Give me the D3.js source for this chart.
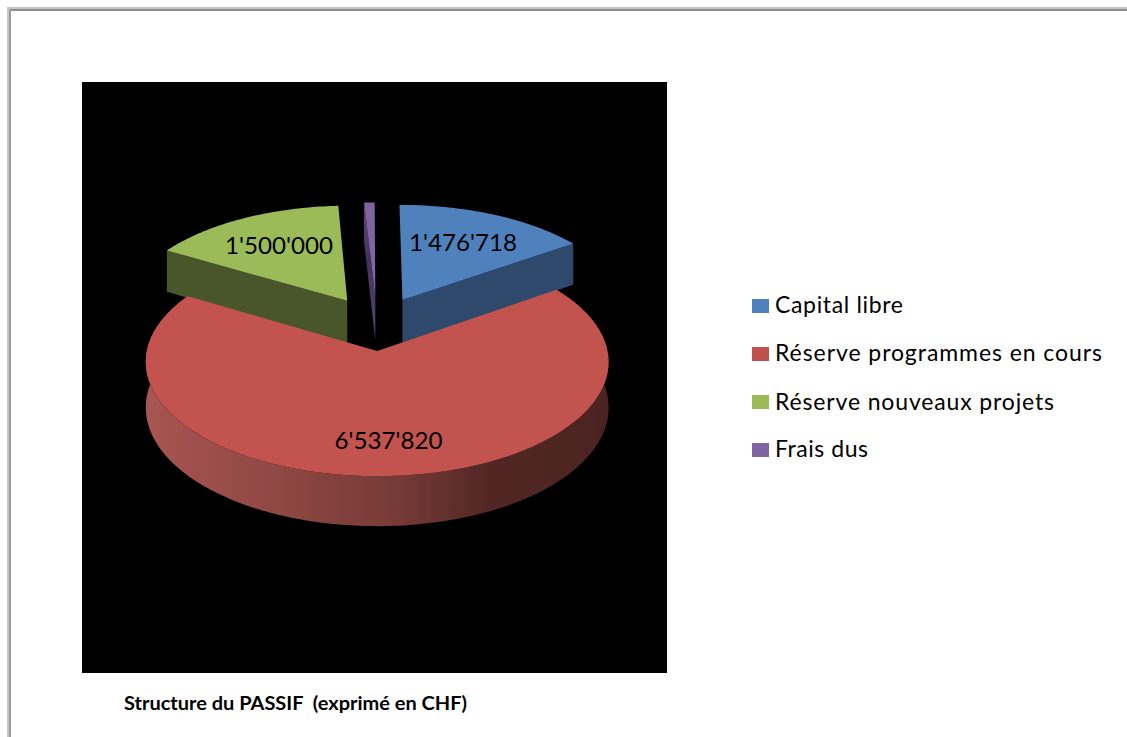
<!DOCTYPE html>
<html><head><meta charset="utf-8">
<script src="https://cdn.jsdelivr.net/npm/d3@7"></script>
<style>html,body{margin:0;padding:0;background:#fff;overflow:hidden}svg{display:block}</style>
</head><body><div id="chart"></div>
<script>
const categories = ["Capital libre", "Réserve programmes en cours", "Réserve nouveaux projets", "Frais dus"];
const values = [1476718, 6537820, 1500000, 80000];
const showValue = [true, true, true, false];
const topColors = ["#4F81BD", "#C25350", "#9BBB59", "#8064A2"];
const legendColors = ["#4F81BD", "#C0504D", "#9BBB59", "#8064A2"];
const wallColors = ["#2F4A6C", "#7A3C39", "#4A5629", "#40325A"];
const chartTitle = "Structure du PASSIF  (exprimé en CHF)";

const W = 1127, H = 737;
const view = {cx: 377, cy: 323.4, rx: 225, ry: 108, persp: 0.093, depth: 44.2, explode: 0.25};
const sliceNudge = [0, -2, -1, 0];
const plot = {x0: 82, x1: 667, y0: 82, y1: 673};
const labelAt = [[463, 251], [388.5, 449], [279, 254]];
const legendBox = {x: 752, size: 17, textX: 775, rows: [299, 347, 395, 443], base: [313, 361, 410, 457], widths: [128, 327, 279, 93]};

const svg = d3.select("#chart").append("svg").attr("width", W).attr("height", H);
svg.append("rect").attr("width", W).attr("height", H).attr("fill", "#fff");

// window frame
[["#c4c4c4", 7, 7, W - 7, 2], ["#8c8c8c", 9, 9, W - 9, 2], ["#c4c4c4", 7, 7, 2, H - 7], ["#9a9a9a", 9, 9, 2, H - 9]]
  .forEach(([c, x, y, w, h]) => {
    svg.append("rect").attr("x", x).attr("y", y).attr("width", w).attr("height", h).attr("fill", c);
  });

svg.append("rect").attr("x", plot.x0).attr("y", plot.y0)
  .attr("width", plot.x1 - plot.x0).attr("height", plot.y1 - plot.y0).attr("fill", "#000");

const defs = svg.append("defs");
const grad = defs.append("linearGradient").attr("id", "redWall").attr("gradientUnits", "userSpaceOnUse")
  .attr("x1", 145).attr("x2", 609).attr("y1", 0).attr("y2", 0);
[[0, "#A85552"], [0.3, "#8E4743"], [0.55, "#753A36"], [0.75, "#512724"], [1, "#4C2421"]]
  .forEach(([o, c]) => grad.append("stop").attr("offset", o).attr("stop-color", c));
const pg = defs.append("linearGradient").attr("id", "purpleWall").attr("x1", 0).attr("x2", 0).attr("y1", 0).attr("y2", 1);
[[0, "#6A5288"], [0.4, "#40325A"], [1, "#55456E"]]
  .forEach(([o, c]) => pg.append("stop").attr("offset", o).attr("stop-color", c));
defs.append("filter").attr("id", "soft").append("feGaussianBlur").attr("stdDeviation", 0.45);

const arcs = d3.pie().sort(null).value(d => d).startAngle(-0.004).endAngle(2 * Math.PI - 0.004)(values);

// perspective projection of a point on the disc plane
function project(X, Y, drop) {
  const w = 1 + view.persp * Y;
  return [view.cx + view.rx * X / w, view.cy - view.ry * Y / w + (drop ? view.depth / w : 0)];
}
function parts(a, nudge) {
  const mid = (a.startAngle + a.endAngle) / 2;
  const ox = view.explode * Math.sin(mid), oy = view.explode * Math.cos(mid);
  const steps = d3.range(a.startAngle, a.endAngle, Math.PI / 180).concat([a.endAngle]);
  const at = (X, Y, drop) => { const q = project(X, Y, drop); return [q[0] + nudge, q[1]]; };
  const rim = drop => steps.map(t => at(ox + Math.sin(t), oy + Math.cos(t), drop));
  const apex = drop => at(ox, oy, drop);
  return {rim, apex};
}
const line = d3.line().curve(d3.curveLinear);
const g = svg.append("g").attr("filter", "url(#soft)");

// back slices first, the large front slice last
[3, 2, 0, 1].forEach(i => {
  const p = parts(arcs[i], sliceNudge[i]);
  const topRim = p.rim(false), lowRim = p.rim(true);
  if (i === 1) {
    g.append("path").attr("d", line(topRim.concat(lowRim.slice().reverse())) + "Z").attr("fill", "url(#redWall)");
  } else {
    // the radial wall facing the viewer
    const k = i === 0 ? topRim.length - 1 : 0;
    const wall = [p.apex(false), topRim[k], lowRim[k], p.apex(true)];
    g.append("path").attr("d", line(wall) + "Z").attr("fill", i === 3 ? "url(#purpleWall)" : wallColors[i]);
  }
  g.append("path").attr("d", line([p.apex(false)].concat(topRim)) + "Z").attr("fill", topColors[i]);
});

const fmt = d3.formatLocale({decimal: ".", thousands: "'", grouping: [3], currency: ["", ""]}).format(",");
values.forEach((v, i) => {
  if (!showValue[i]) return;
  svg.append("text").attr("x", labelAt[i][0]).attr("y", labelAt[i][1]).attr("text-anchor", "middle")
    .attr("font-family", "Lato, sans-serif").attr("font-size", 24).attr("fill", "#000")
    .attr("textLength", 108).attr("lengthAdjust", "spacingAndGlyphs").text(fmt(v));
});

categories.forEach((c, i) => {
  svg.append("rect").attr("x", legendBox.x).attr("y", legendBox.rows[i])
    .attr("width", legendBox.size).attr("height", legendBox.size - 3)
    .attr("fill", legendColors[i]);
  svg.append("text").attr("x", legendBox.textX).attr("y", legendBox.base[i])
    .attr("font-family", "Lato, sans-serif").attr("font-size", 23).attr("fill", "#000")
    .attr("textLength", legendBox.widths[i]).attr("lengthAdjust", "spacing").text(c);
});

svg.append("text").attr("x", 124).attr("y", 710).style("white-space", "pre")
  .attr("font-family", "Lato, sans-serif").attr("font-weight", 700).attr("font-size", 19).attr("fill", "#000")
  .attr("textLength", 343).attr("lengthAdjust", "spacingAndGlyphs").text(chartTitle);
</script></body></html>
